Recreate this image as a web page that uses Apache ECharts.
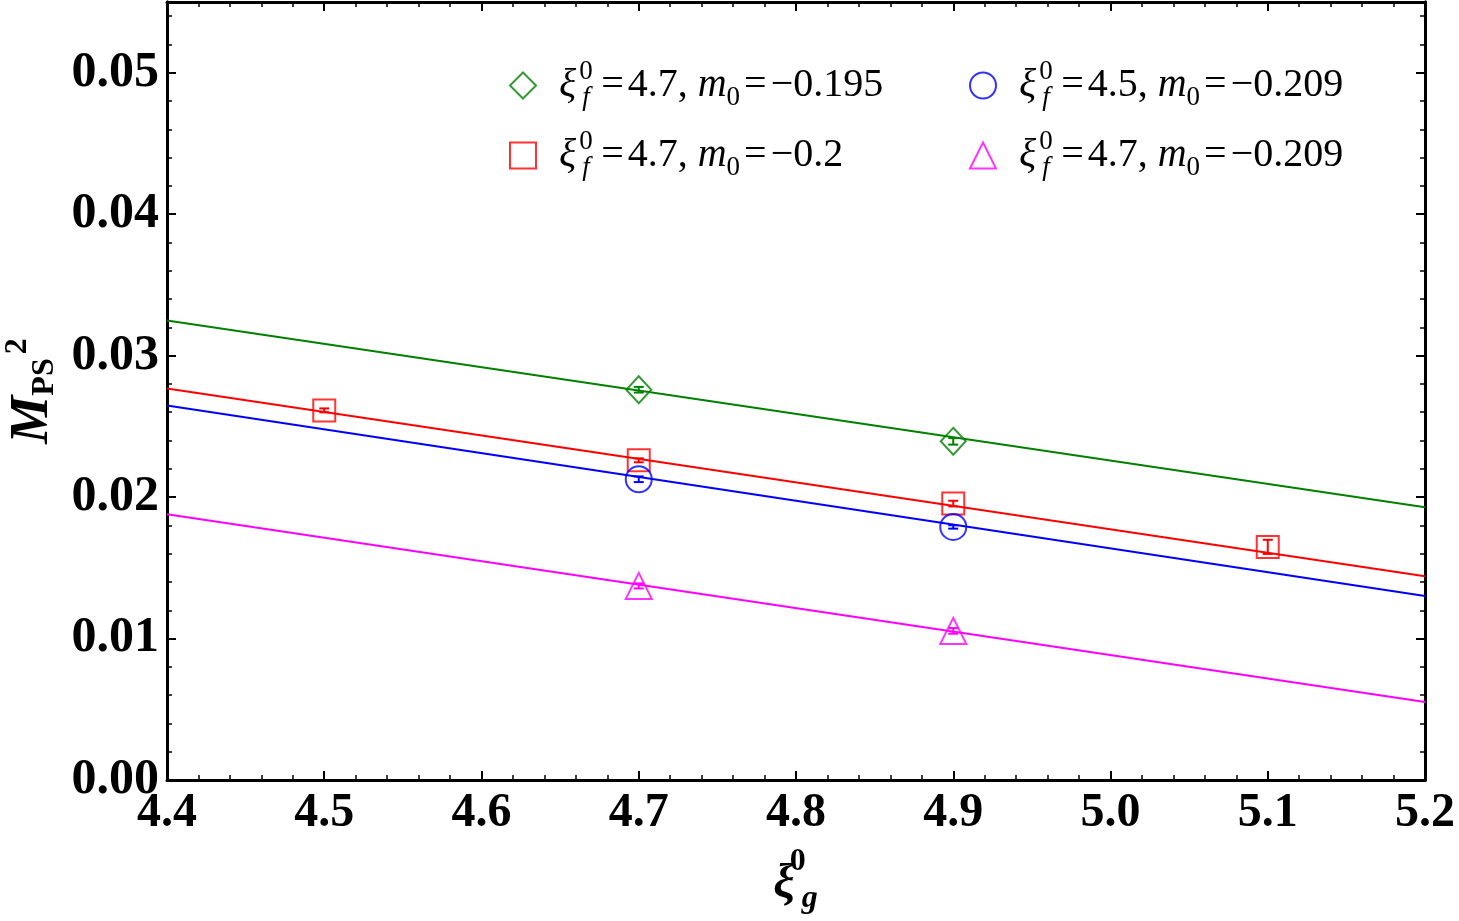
<!DOCTYPE html>
<html>
<head>
<meta charset="utf-8">
<script src="https://cdn.jsdelivr.net/npm/echarts@6/dist/echarts.min.js"></script>
<style>
    html, body { margin: 0; padding: 0; background: #fff; }
    #chart { width: 1459px; height: 921px; }
</style>
</head>
<body>
<div id="chart"></div>
<script>
    // data: [xi_g^0, M_PS^2, error]
    const greenPts = [[4.7, 0.02759, 0.0002], [4.9, 0.02394, 0.00023]];
    const redPts = [[4.5, 0.02613, 0.00014], [4.7, 0.0226, 0.00014], [4.9, 0.01954, 0.0002], [5.1, 0.01648, 0.0005]];
    const bluePts = [[4.7, 0.02126, 0.0002], [4.9, 0.01789, 0.00012]];
    const magentaPts = [[4.7, 0.01372, 0.00018], [4.9, 0.01054, 0.0002]];

    // fit lines, value at x = 4.4 and x = 5.2
    const fitX = [4.4, 5.2];
    const greenFit = [0.03249, 0.01928];
    const redFit = [0.02768, 0.01441];
    const blueFit = [0.02648, 0.0130];
    const magentaFit = [0.01879, 0.00551];

    const xTicks = [4.4, 4.5, 4.6, 4.7, 4.8, 4.9, 5.0, 5.1, 5.2];
    const yTicks = [0.00, 0.01, 0.02, 0.03, 0.04, 0.05];

    const names = ['g', 'r', 'b', 'm'];
    const legendText = {
        g: '{gap|}{i|ξ}{sup|0}{sub|f}{eq|=}{r|4.7, }{i|m}{sub0|0}{eq|=}{r|−0.195}',
        r: '{gap|}{i|ξ}{sup|0}{sub|f}{eq|=}{r|4.7, }{i|m}{sub0|0}{eq|=}{r|−0.2}',
        b: '{gap|}{i|ξ}{sup|0}{sub|f}{eq|=}{r|4.5, }{i|m}{sub0|0}{eq|=}{r|−0.209}',
        m: '{gap|}{i|ξ}{sup|0}{sub|f}{eq|=}{r|4.7, }{i|m}{sub0|0}{eq|=}{r|−0.209}'
    };
    const colors = {g: '#008000', r: '#ff0000', b: '#0000ff', m: '#ff00ff'};
    const symbols = {g: 'diamond', r: 'rect', b: 'circle', m: 'triangle'};
    const sizes = {g: [25, 27], r: 22, b: 26, m: 26};
    const points = {g: greenPts, r: redPts, b: bluePts, m: magentaPts};
    const fits = {g: greenFit, r: redFit, b: blueFit, m: magentaFit};

    const font = 'Liberation Serif';
    const legendRich = {
        gap: {width: 18},
        i: {fontFamily: font, fontSize: 40, fontStyle: 'italic', color: '#000', verticalAlign: 'middle'},
        r: {fontFamily: font, fontSize: 40, color: '#000', verticalAlign: 'middle'},
        eq: {fontFamily: font, fontSize: 40, color: '#000', padding: [0, 4, 0, 4], verticalAlign: 'middle'},
        sup: {fontFamily: font, fontSize: 27, color: '#000', width: 0, padding: [0, 0, 28, 3], verticalAlign: 'middle'},
        sub: {fontFamily: font, fontSize: 27, fontStyle: 'italic', color: '#000', width: 15, padding: [24, 0, 0, 3], verticalAlign: 'middle'},
        sub0: {fontFamily: font, fontSize: 27, color: '#000', padding: [24, 0, 0, 0], verticalAlign: 'middle'}
    };

    function legendItem(k) {
        return {
            name: k,
            icon: symbols[k],
            itemStyle: {color: '#fff', borderColor: colors[k], borderWidth: 2}
        };
    }

    function errorBars(k) {
        return {
            type: 'custom',
            name: k + '-err',
            data: points[k],
            z: 3,
            renderItem: function (params, api) {
                const x = api.value(0), y = api.value(1), e = api.value(2);
                const hi = api.coord([x, y + e]);
                const lo = api.coord([x, y - e]);
                const hw = 5;
                const style = {stroke: colors[k], lineWidth: 2};
                return {
                    type: 'group',
                    children: [
                        {type: 'line', shape: {x1: hi[0], y1: hi[1], x2: lo[0], y2: lo[1]}, style: style},
                        {type: 'line', shape: {x1: hi[0] - hw, y1: hi[1], x2: hi[0] + hw, y2: hi[1]}, style: style},
                        {type: 'line', shape: {x1: lo[0] - hw, y1: lo[1], x2: lo[0] + hw, y2: lo[1]}, style: style}
                    ]
                };
            }
        };
    }

    const series = [];
    names.forEach(function (k) {
        series.push({
            type: 'line',
            name: k + '-fit',
            data: fitX.map(function (x, i) { return [x, fits[k][i]]; }),
            showSymbol: false,
            silent: true,
            lineStyle: {color: colors[k], width: 2},
            z: 2
        });
        series.push(errorBars(k));
        series.push({
            type: 'scatter',
            name: k,
            data: points[k].map(function (p) { return [p[0], p[1]]; }),
            symbol: symbols[k],
            symbolSize: sizes[k],
            itemStyle: {color: 'rgba(0,0,0,0)', borderColor: colors[k], borderWidth: 2},
            z: 4
        });
    });

    const axisLine = {show: true, onZero: false, lineStyle: {color: '#000', width: 3}};
    const xMin = xTicks[0], xMax = xTicks[xTicks.length - 1];
    const yMin = yTicks[0], yMax = 0.055;

    function xAxis(pos, labels) {
        return {
            type: 'value', position: pos, min: xMin, max: xMax, interval: 0.1,
            axisLine: axisLine,
            axisTick: {show: true, inside: true, length: 9, lineStyle: {color: '#000', width: 2}},
            minorTick: {show: true, splitNumber: 5, length: 5, lineStyle: {color: '#000', width: 1.5}},
            splitLine: {show: false},
            axisLabel: labels ? {
                show: true, margin: 10, color: '#000', fontFamily: font, fontWeight: 'bold', fontSize: 48,
                formatter: function (v) { return v.toFixed(1); }
            } : {show: false}
        };
    }

    function yAxis(pos, major, labels) {
        return {
            type: 'value', position: pos, min: yMin, max: yMax, interval: major ? 0.01 : 0.002,
            axisLine: axisLine,
            axisTick: {show: true, inside: true, length: major ? 9 : 5, lineStyle: {color: '#000', width: major ? 2 : 1.5}},
            splitLine: {show: false},
            axisLabel: labels ? {
                show: true, margin: 8, color: '#000', fontFamily: font, fontWeight: 'bold', fontSize: 50,
                formatter: function (v) { return v > 0.0505 ? '' : v.toFixed(2); }
            } : {show: false}
        };
    }

    const xa = [xAxis('bottom', true), xAxis('top', false)];
    xa[0].name = '{i|ξ}{sup|0}{sub|g}';
    xa[0].nameLocation = 'middle';
    xa[0].nameGap = 66;
    xa[0].nameTextStyle = {
        rich: {
            i: {fontFamily: font, fontSize: 48, fontStyle: 'italic', fontWeight: 'bold', color: '#000', verticalAlign: 'middle'},
            sup: {fontFamily: font, fontSize: 32, fontWeight: 'bold', color: '#000', width: 0, padding: [0, 0, 46, 3], verticalAlign: 'middle'},
            sub: {fontFamily: font, fontSize: 32, fontStyle: 'italic', fontWeight: 'bold', color: '#000', width: 18, padding: [28, 0, 0, 3], verticalAlign: 'middle'}
        }
    };

    const ya = [yAxis('left', true, true), yAxis('left', false, false), yAxis('right', true, false), yAxis('right', false, false)];
    ya[0].name = '{i|M}{sub|PS}{sup|2}';
    ya[0].nameLocation = 'middle';
    ya[0].nameRotate = 90;
    ya[0].nameGap = 88;
    ya[0].nameTextStyle = {
        rich: {
            i: {fontFamily: font, fontSize: 54, fontStyle: 'italic', fontWeight: 'bold', color: '#000', verticalAlign: 'middle'},
            sub: {fontFamily: font, fontSize: 32, fontWeight: 'bold', color: '#000', padding: [24, 0, 0, 0], verticalAlign: 'middle'},
            sup: {fontFamily: font, fontSize: 32, fontWeight: 'bold', color: '#000', padding: [0, 0, 30, 4], verticalAlign: 'middle'}
        }
    };

    const option = {
        backgroundColor: '#fff',
        animation: false,
        grid: {left: 167, right: 34, top: 2, bottom: 141, containLabel: false, outerBoundsMode: 'none'},
        xAxis: xa,
        yAxis: ya,
        legend: [
            {
                data: [legendItem('g'), legendItem('r')],
                orient: 'vertical', left: 504, top: 53,
                itemWidth: 26, itemHeight: 26, itemGap: 17,
                selectedMode: false,
                formatter: function (n) { return legendText[n]; },
                textStyle: {rich: legendRich, lineHeight: 50}
            },
            {
                data: [legendItem('b'), legendItem('m')],
                orient: 'vertical', left: 964, top: 53,
                itemWidth: 26, itemHeight: 26, itemGap: 17,
                selectedMode: false,
                formatter: function (n) { return legendText[n]; },
                textStyle: {rich: legendRich, lineHeight: 50}
            }
        ],
        series: series
    };

    const myChart = echarts.init(document.getElementById('chart'));
    myChart.setOption(option);
</script>
</body>
</html>
